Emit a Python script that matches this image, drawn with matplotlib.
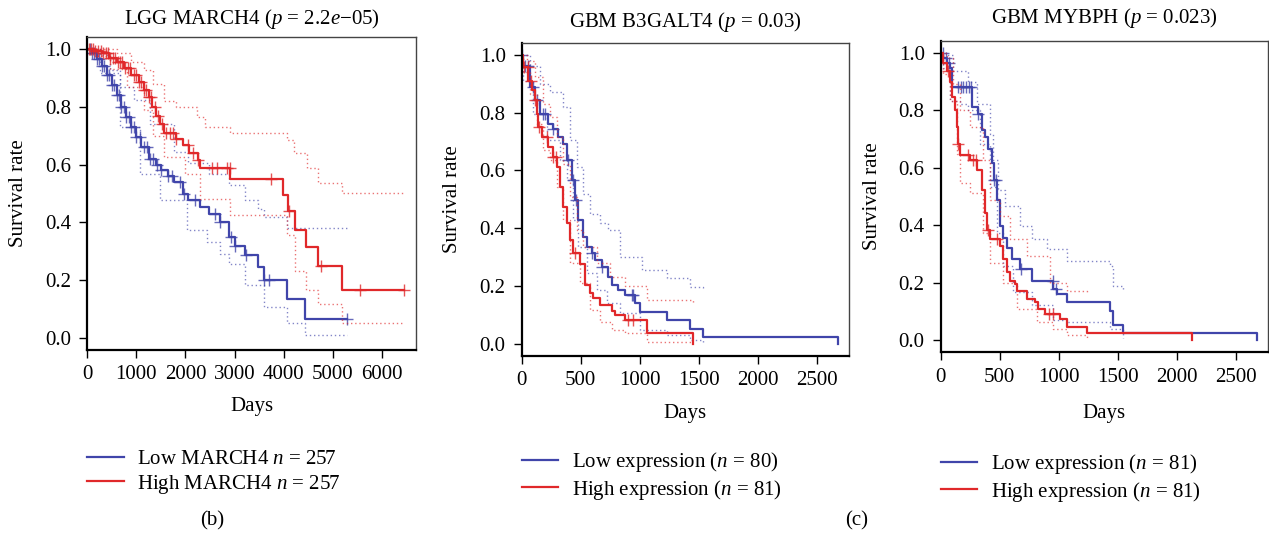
import numpy as np
import matplotlib
matplotlib.use("Agg")
import matplotlib.pyplot as plt

plt.rcParams["font.family"] = "Liberation Serif"
plt.rcParams["mathtext.fontset"] = "custom"
plt.rcParams["mathtext.rm"] = "Liberation Serif"
plt.rcParams["mathtext.it"] = "Liberation Serif:italic"

BLUE = "#4045AA"
RED = "#E0282A"
FS = 15

# ---- panel (b): LGG MARCH4 ----
lgg_low_t = [0, 100, 200, 300, 400, 500, 600, 700, 800, 900, 1000, 1100, 1250, 1400, 1500,
             1650, 1760, 1960, 2060, 2300, 2470, 2700, 2880, 3010, 3210, 3480, 3590, 4060, 4430, 5280]
lgg_low_s = [1.0, 0.985, 0.965, 0.94, 0.91, 0.875, 0.84, 0.80, 0.765, 0.73, 0.695, 0.66, 0.62, 0.60, 0.58,
             0.56, 0.54, 0.50, 0.477, 0.454, 0.43, 0.40, 0.35, 0.32, 0.286, 0.246, 0.20, 0.136, 0.065, 0.065]
lgg_low_up_t = [0, 270, 470, 680, 950, 1285, 1760, 2060, 2470, 2880, 3210, 3480, 3590, 4060, 5280]
lgg_low_up_s = [1.0, 0.98, 0.927, 0.87, 0.823, 0.742, 0.644, 0.604, 0.569, 0.53, 0.477, 0.448, 0.42, 0.381, 0.381]
lgg_low_lo_t = [0, 270, 680, 1080, 1490, 2030, 2440, 2700, 2880, 3210, 3590, 4060, 4430, 5280]
lgg_low_lo_s = [1.0, 0.916, 0.73, 0.569, 0.477, 0.373, 0.333, 0.29, 0.257, 0.182, 0.107, 0.05, 0.009, 0.009]
lgg_low_cens = [50, 100, 150, 200, 250, 300, 350, 400, 450, 500, 550, 600, 650, 700, 750, 800, 850, 900,
                950, 1000, 1080, 1150, 1220, 1290, 1350, 1420, 1500, 1650, 1720, 1900, 1980, 2200, 2600,
                2700, 2930, 3010, 3230, 3600, 3700, 5280]

lgg_high_t = [0, 150, 300, 450, 600, 750, 900, 1050, 1150, 1250, 1330, 1400, 1480, 1560, 1800, 1960,
              2080, 2250, 2300, 2910, 3990, 4090, 4230, 4450, 4700, 5180, 6450]
lgg_high_s = [1.0, 0.993, 0.985, 0.97, 0.955, 0.935, 0.91, 0.885, 0.86, 0.835, 0.80, 0.77, 0.74, 0.71, 0.69,
              0.667, 0.64, 0.615, 0.59, 0.55, 0.495, 0.44, 0.375, 0.315, 0.25, 0.165, 0.165]
lgg_high_up_t = [0, 300, 600, 900, 1150, 1350, 1560, 1800, 2230, 2400, 2910, 3990, 4060, 4200, 4465, 4700, 5175, 6450]
lgg_high_up_s = [1.0, 1.0, 0.985, 0.955, 0.927, 0.88, 0.82, 0.80, 0.766, 0.73, 0.71, 0.71, 0.685, 0.64,
                 0.587, 0.535, 0.503, 0.503]
lgg_high_lo_t = [0, 200, 470, 810, 1150, 1350, 1560, 2000, 2300, 2910, 3990, 4060, 4230, 4450, 4700, 5175, 6450]
lgg_high_lo_s = [1.0, 0.975, 0.933, 0.87, 0.79, 0.70, 0.627, 0.569, 0.48, 0.425, 0.425, 0.356, 0.23, 0.165,
                 0.117, 0.053, 0.053]
lgg_high_cens = [30, 80, 120, 170, 220, 280, 330, 380, 420, 470, 520, 570, 620, 680, 720, 780, 830, 880, 950,
                 1000, 1050, 1100, 1150, 1200, 1260, 1310, 1380, 1450, 1520, 1600, 1680, 1750, 1800, 2050,
                 2150, 2250, 2550, 2650, 2850, 2900, 3750, 4100, 4750, 5550, 6450]

# ---- panel (c) left: GBM B3GALT4 ----
b3_low_t = [0, 14, 71, 113, 155, 226, 268, 311, 353, 381, 424, 452, 480, 523, 551, 593, 622, 678, 735, 763,
            819, 876, 960, 1003, 1229, 1427, 1540, 2684]
b3_low_s = [1.0, 0.963, 0.888, 0.842, 0.796, 0.76, 0.745, 0.716, 0.693, 0.635, 0.566, 0.497, 0.428, 0.37,
            0.336, 0.313, 0.29, 0.267, 0.232, 0.203, 0.186, 0.169, 0.14, 0.11, 0.081, 0.052, 0.025, 0.0]
b3_low_up_t = [0, 71, 155, 240, 353, 410, 466, 523, 579, 664, 735, 833, 1017, 1229, 1427, 1540]
b3_low_up_s = [1.0, 0.963, 0.9, 0.871, 0.82, 0.704, 0.612, 0.52, 0.45, 0.417, 0.394, 0.3, 0.255, 0.227, 0.197, 0.19]
b3_low_lo_t = [0, 14, 99, 212, 325, 381, 438, 480, 551, 636, 720, 833, 1003, 1229, 1427, 1540]
b3_low_lo_s = [1.0, 0.911, 0.796, 0.704, 0.635, 0.566, 0.428, 0.336, 0.244, 0.186, 0.14, 0.106, 0.048, 0.031,
               0.014, 0.008]
b3_low_cens = [5, 30, 50, 100, 127, 184, 200, 268, 395, 438, 460, 593, 678, 935, 946]

b3_high_t = [0, 14, 56, 85, 113, 127, 141, 169, 226, 268, 297, 325, 353, 381, 410, 438, 494, 537, 579, 607,
             664, 763, 791, 876, 1059, 1449]
b3_high_s = [1.0, 0.957, 0.911, 0.877, 0.842, 0.796, 0.75, 0.716, 0.681, 0.647, 0.612, 0.543, 0.474, 0.417,
             0.359, 0.313, 0.278, 0.204, 0.175, 0.158, 0.135, 0.112, 0.1, 0.083, 0.037, 0.0]
b3_high_up_t = [0, 42, 113, 184, 240, 297, 353, 410, 466, 523, 636, 749, 876, 1059, 1449]
b3_high_up_s = [1.0, 0.98, 0.923, 0.83, 0.785, 0.716, 0.624, 0.509, 0.394, 0.336, 0.279, 0.233, 0.2, 0.152, 0.14]
b3_high_lo_t = [0, 14, 71, 127, 184, 240, 297, 353, 410, 494, 579, 664, 763, 876, 1059, 1449]
b3_high_lo_s = [1.0, 0.94, 0.865, 0.762, 0.67, 0.635, 0.543, 0.428, 0.279, 0.21, 0.117, 0.077, 0.048, 0.037,
                0.008, 0.008]
b3_high_cens = [20, 50, 75, 113, 150, 212, 268, 290, 452, 900, 946]

# ---- panel (c) right: GBM MYBPH ----
my_low_t = [0, 23, 51, 79, 93, 262, 319, 347, 375, 403, 432, 454, 474, 502, 531, 559, 601, 672, 770, 954,
            982, 1067, 1434, 1462, 1541, 2684]
my_low_s = [1.0, 0.983, 0.966, 0.948, 0.88, 0.81, 0.787, 0.73, 0.707, 0.667, 0.615, 0.557, 0.489, 0.397,
            0.356, 0.322, 0.282, 0.247, 0.207, 0.178, 0.161, 0.132, 0.103, 0.052, 0.025, 0.0]
my_low_up_t = [0, 65, 107, 234, 305, 418, 446, 488, 545, 672, 770, 897, 1067, 1434, 1462, 1541]
my_low_up_s = [1.0, 0.994, 0.937, 0.897, 0.822, 0.718, 0.626, 0.523, 0.466, 0.397, 0.351, 0.316, 0.276,
               0.259, 0.19, 0.178]
my_low_lo_t = [0, 23, 79, 164, 234, 333, 418, 474, 531, 615, 770, 954, 1067, 1434, 1541]
my_low_lo_s = [1.0, 0.948, 0.833, 0.822, 0.8, 0.684, 0.534, 0.374, 0.259, 0.167, 0.121, 0.069, 0.063, 0.04, 0.006]
my_low_cens = [20, 45, 70, 150, 170, 190, 215, 240, 260, 320, 455, 470, 680, 950, 975]

my_high_t = [0, 23, 51, 79, 93, 121, 135, 150, 164, 248, 305, 347, 375, 389, 418, 502, 531, 559, 587, 629,
             643, 728, 799, 827, 883, 1010, 1067, 1236, 2131]
my_high_s = [1.0, 0.966, 0.937, 0.897, 0.845, 0.8, 0.741, 0.684, 0.644, 0.626, 0.592, 0.523, 0.443, 0.385,
             0.351, 0.328, 0.282, 0.236, 0.207, 0.195, 0.172, 0.144, 0.132, 0.109, 0.092, 0.075, 0.046, 0.025, 0.0]
my_high_up_t = [0, 51, 107, 164, 248, 361, 418, 502, 587, 728, 926, 1067, 1236]
my_high_up_s = [1.0, 0.983, 0.89, 0.8, 0.741, 0.626, 0.489, 0.431, 0.351, 0.293, 0.2, 0.172, 0.161]
my_high_lo_t = [0, 23, 79, 135, 164, 248, 361, 418, 531, 643, 813, 954, 1067, 1236]
my_high_lo_s = [1.0, 0.925, 0.833, 0.649, 0.546, 0.511, 0.374, 0.27, 0.2, 0.109, 0.063, 0.04, 0.017, 0.006]
my_high_cens = [60, 150, 230, 270, 300, 400, 480, 920, 950]


def step_value(t, s, x):
    idx = np.searchsorted(np.asarray(t), np.asarray(x), side="right") - 1
    return np.asarray(s)[idx]


def draw_km(ax, t, s, up_t, up_s, lo_t, lo_s, cens, color, label):
    ax.step(up_t, up_s, where="post", color=color, lw=1.0, ls=(0, (1, 2)), alpha=0.65)
    ax.step(lo_t, lo_s, where="post", color=color, lw=1.0, ls=(0, (1, 2)), alpha=0.65)
    ax.step(t, s, where="post", color=color, lw=1.6, label=label)
    ax.plot(cens, step_value(t, s, cens), ls="none", marker="+", ms=9, mew=1.0, color=color, alpha=0.8)


def style_axes(ax, xmax, xticks, title, title_y):
    ax.set_xlim(0, xmax)
    ax.set_ylim(-0.042, 1.042)
    ax.set_xticks(xticks)
    ax.set_yticks([0.0, 0.2, 0.4, 0.6, 0.8, 1.0])
    ax.set_yticklabels(["0.0", "0.2", "0.4", "0.6", "0.8", "1.0"])
    ax.tick_params(labelsize=FS, length=5.5, width=1.0, direction="out", pad=5.5)
    ax.tick_params(axis="y", pad=6)
    for side in ("left", "bottom"):
        ax.spines[side].set_linewidth(1.6)
        ax.spines[side].set_color("black")
    for side in ("top", "right"):
        ax.spines[side].set_linewidth(1.0)
        ax.spines[side].set_color("#444444")
    ax.set_xlabel("Days", fontsize=FS)
    ax.set_ylabel("Survival rate", fontsize=FS)
    ax.xaxis.label.set_va("center")
    ax.yaxis.label.set_va("center")
    ax.text(0.5, title_y, title, transform=ax.transAxes, ha="center", va="center", fontsize=FS)


fig = plt.figure(figsize=(12.69, 5.39), dpi=100)

ax1 = fig.add_axes([0.0686, 0.3506, 0.2593, 0.5807])
draw_km(ax1, lgg_low_t, lgg_low_s, lgg_low_up_t, lgg_low_up_s, lgg_low_lo_t, lgg_low_lo_s,
        lgg_low_cens, BLUE, r"Low MARCH4 $n$ = 257")
draw_km(ax1, lgg_high_t, lgg_high_s, lgg_high_up_t, lgg_high_up_s, lgg_high_lo_t, lgg_high_lo_s,
        lgg_high_cens, RED, r"High MARCH4 $n$ = 257")
style_axes(ax1, 6692, [0, 1000, 2000, 3000, 4000, 5000, 6000],
           r"LGG MARCH4 ($p$ = 2.2$e$−05)", 1.058)
ax1.xaxis.set_label_coords(0.5, -0.182)
ax1.yaxis.set_label_coords(-0.207, 0.5)

ax2 = fig.add_axes([0.4111, 0.3395, 0.2579, 0.5813])
draw_km(ax2, b3_low_t, b3_low_s, b3_low_up_t, b3_low_up_s, b3_low_lo_t, b3_low_lo_s,
        b3_low_cens, BLUE, r"Low expression ($n$ = 80)")
draw_km(ax2, b3_high_t, b3_high_s, b3_high_up_t, b3_high_up_s, b3_high_lo_t, b3_high_lo_s,
        b3_high_cens, RED, r"High expression ($n$ = 81)")
style_axes(ax2, 2774, [0, 500, 1000, 1500, 2000, 2500], r"GBM B3GALT4 ($p$ = 0.03)", 1.067)
ax2.xaxis.set_label_coords(0.5, -0.182)
ax2.yaxis.set_label_coords(-0.21, 0.5)

ax3 = fig.add_axes([0.7413, 0.3464, 0.2579, 0.578])
draw_km(ax3, my_low_t, my_low_s, my_low_up_t, my_low_up_s, my_low_lo_t, my_low_lo_s,
        my_low_cens, BLUE, r"Low expression ($n$ = 81)")
draw_km(ax3, my_high_t, my_high_s, my_high_up_t, my_high_up_s, my_high_lo_t, my_high_lo_s,
        my_high_cens, RED, r"High expression ($n$ = 81)")
style_axes(ax3, 2774, [0, 500, 1000, 1500, 2000, 2500], r"GBM MYBPH ($p$ = 0.023)", 1.072)
ax3.xaxis.set_label_coords(0.5, -0.195)
ax3.yaxis.set_label_coords(-0.208, 0.5)

legend_kw = dict(loc="upper left", frameon=False, fontsize=FS, handlelength=1.75,
                 handletextpad=0.65, labelspacing=0.18, borderpad=0, borderaxespad=0)
ax1.legend(bbox_to_anchor=(0.0, -0.317), **legend_kw)
ax2.legend(bbox_to_anchor=(0.0, -0.30), **legend_kw)
ax3.legend(bbox_to_anchor=(0.0, -0.32), **legend_kw)

fig.text(0.167, 0.0334, "(b)", ha="center", va="center", fontsize=FS)
fig.text(0.675, 0.0334, "(c)", ha="center", va="center", fontsize=FS)

fig.savefig("out.png", dpi=100)
